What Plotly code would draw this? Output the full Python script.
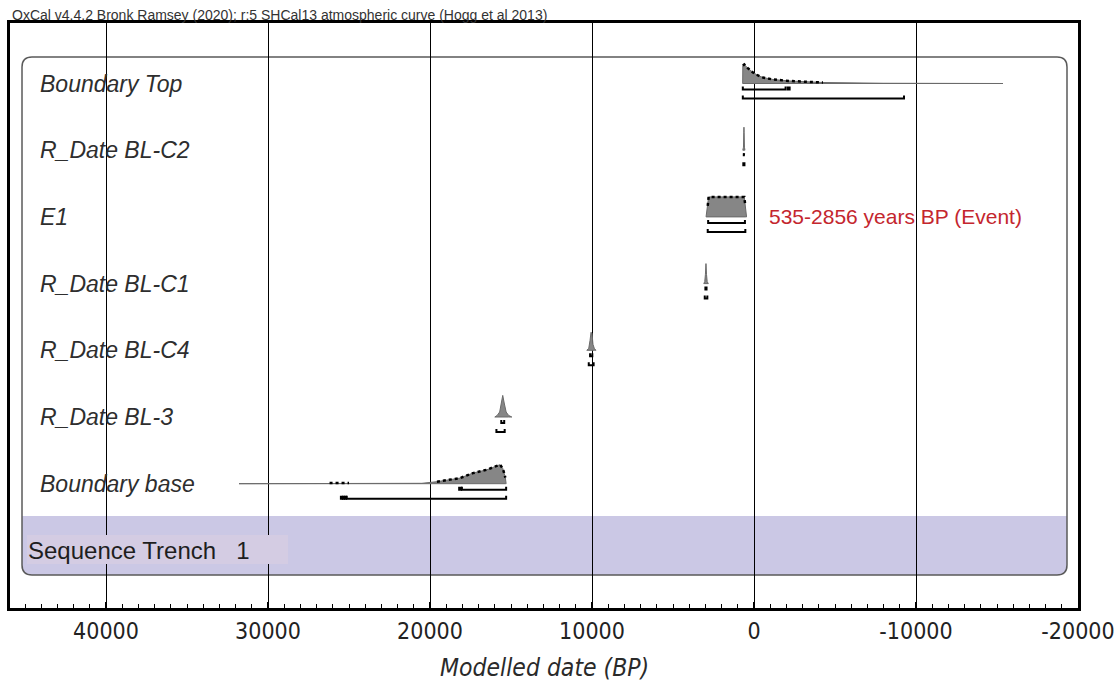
import plotly.graph_objects as go

# ---------------- data ----------------
rows = ["Boundary Top", "R_Date BL-C2", "E1", "R_Date BL-C1",
        "R_Date BL-C4", "R_Date BL-3", "Boundary base"]

# modelled probability distributions: date (BP) and relative probability
top_bp = [700, 690, 600, 400, 62, -250, -556, -1173, -2222, -4259, -8000, -15370]
top_p = [0, 0.90, 0.95, 0.78, 0.55, 0.40, 0.30, 0.20, 0.125, 0.05, 0.012, 0]

c2_bp = [690, 650, 630, 620, 610, 590, 560]
c2_p = [0, 0.15, 0.9, 1.15, 0.9, 0.15, 0]

e1_bp = [2960, 2856, 2800, 600, 535, 460]
e1_p = [0, 0.55, 1.0, 1.0, 0.55, 0]

c1_bp = [3100, 3040, 3000, 2965, 2930, 2890, 2820]
c1_p = [0, 0.1, 0.45, 1.0, 0.45, 0.1, 0]

c4_bp = [10320, 10200, 10120, 10060, 10000, 9940, 9860, 9760]
c4_p = [0, 0.1, 0.5, 0.9, 0.85, 0.3, 0.1, 0]

bl3_bp = [16000, 15850, 15700, 15600, 15510, 15420, 15300, 15150, 14950]
bl3_p = [0, 0.08, 0.25, 0.7, 1.08, 0.7, 0.25, 0.08, 0]

base_bp = [31790, 28000, 26200, 25000, 23100, 20500, 19570, 18150, 17350,
           16480, 15680, 15500, 15350, 15300]
base_p = [0, 0.008, 0.03, 0.03, 0.012, 0.02, 0.10, 0.28, 0.53,
          0.70, 0.95, 0.75, 0.3, 0]

# highest posterior density ranges (from, to) in BP
top_r68 = [(690, -1950), (-2080, -2200)]
top_r95 = [(690, -9260)]
c2_r68 = [(630, 610)]
c2_r95 = [(660, 590)]
e1_r68 = [(2830, 560)]
e1_r95 = [(2856, 535)]
c1_r68 = [(3000, 2930)]
c1_r95 = [(3040, 2880)]
c4_r68 = [(10120, 9980)]
c4_r95 = [(10200, 9900)]
bl3_r68 = [(15600, 15420)]
bl3_r95 = [(15900, 15390)]
base_r68 = [(18200, 18080), (18030, 15300)]
base_r95 = [(25500, 25420), (25380, 25300), (25260, 25180), (25140, 15300)]

event_label = "535-2856 years BP (Event)"
tick_vals = [40000, 30000, 20000, 10000, 0, -10000, -20000]
tick_text = ["40000", "30000", "20000", "10000", "0", "-10000", "-20000"]

series = [
    (top_bp, top_p, top_r68, top_r95, True),
    (c2_bp, c2_p, c2_r68, c2_r95, False),
    (e1_bp, e1_p, e1_r68, e1_r95, True),
    (c1_bp, c1_p, c1_r68, c1_r95, False),
    (c4_bp, c4_p, c4_r68, c4_r95, False),
    (bl3_bp, bl3_p, bl3_r68, bl3_r95, False),
    (base_bp, base_p, base_r68, base_r95, True),
]

# ---------------- geometry ----------------
W, H = 1116, 684
L, R, T, B = 10, 38, 23, 76
PLOT_TOP, PLOT_BOT = T, H - B
ROW_PX = 66.7            # vertical distance between rows
ROW0_PX = 83.5           # baseline of the first row
PEAK = 20 / ROW_PX       # height of unit probability, in row units
OFF68, OFF95, TICK = 6 / ROW_PX, 15 / ROW_PX, 3 / ROW_PX
DOT_MIN = 0.025          # outline drawn dotted where probability exceeds this


def px_x(p):
    return (p - L) / (W - L - R)


def px_y(p):
    return (PLOT_BOT - p) / (PLOT_BOT - PLOT_TOP)


def pt(x, y):
    return f"{px_x(x):.5f},{px_y(y):.5f}"


fig = go.Figure()

for i, (bp, p, r68, r95, dotted) in enumerate(series):
    top = [i - v * PEAK for v in p]
    fig.add_trace(go.Scatter(
        x=bp + bp[::-1], y=top + [i] * len(bp), fill="toself",
        fillcolor="#868686", line=dict(color="#6a6a6a", width=1),
        mode="lines", hoverinfo="skip", showlegend=False))
    if dotted:
        xs = [x if v >= DOT_MIN else None for x, v in zip(bp, p)]
        ys = [i - v * PEAK if v >= DOT_MIN else None for v in p]
        fig.add_trace(go.Scatter(
            x=xs, y=ys, mode="lines", connectgaps=False,
            line=dict(color="black", width=2.5, dash="dot"),
            hoverinfo="skip", showlegend=False))
    bx, by = [], []
    for off, ranges in ((OFF68, r68), (OFF95, r95)):
        for a, b in ranges:
            yb = i + off
            bx += [a, a, b, b, None]
            by += [yb - TICK, yb, yb, yb - TICK, None]
    fig.add_trace(go.Scatter(
        x=bx, y=by, mode="lines", line=dict(color="black", width=2),
        hoverinfo="skip", showlegend=False))

# ---------------- frame decorations ----------------
x0, x1, y0, y1, rad = 22, 1067, 57, 575, 10
band_top = 516
box_path = (f"M {pt(x0 + rad, y0)} L {pt(x1 - rad, y0)} Q {pt(x1, y0)} {pt(x1, y0 + rad)} "
            f"L {pt(x1, y1 - rad)} Q {pt(x1, y1)} {pt(x1 - rad, y1)} "
            f"L {pt(x0 + rad, y1)} Q {pt(x0, y1)} {pt(x0, y1 - rad)} "
            f"L {pt(x0, y0 + rad)} Q {pt(x0, y0)} {pt(x0 + rad, y0)} Z")
band_path = (f"M {pt(x0, band_top)} L {pt(x1, band_top)} L {pt(x1, y1 - rad)} "
             f"Q {pt(x1, y1)} {pt(x1 - rad, y1)} L {pt(x0 + rad, y1)} "
             f"Q {pt(x0, y1)} {pt(x0, y1 - rad)} Z")

shapes = [
    dict(type="path", xref="paper", yref="paper", path=band_path,
         fillcolor="#cbc8e5", line=dict(width=0), layer="below"),
    dict(type="path", xref="paper", yref="paper", path=box_path,
         fillcolor="rgba(0,0,0,0)", line=dict(color="#5a5a5a", width=1.5), layer="below"),
    dict(type="rect", xref="paper", yref="paper",
         x0=px_x(27), x1=px_x(288), y0=px_y(564), y1=px_y(535),
         fillcolor="#d4cce3", line=dict(width=0), layer="above"),
]

label_font = dict(family="Liberation Sans, Arial, sans-serif", size=23,
                  color="#2e2e2e", style="italic")
annotations = [
    dict(text=name, xref="paper", yref="y", x=px_x(38), y=i,
         xanchor="left", yanchor="middle", showarrow=False, font=label_font)
    for i, name in enumerate(rows)
]
annotations += [
    dict(text=event_label, xref="paper", yref="y", x=px_x(767), y=2,
         xanchor="left", yanchor="middle", showarrow=False,
         font=dict(family="Liberation Sans, Arial, sans-serif", size=21, color="#c4262e")),
    dict(text="Sequence Trench\u00a0\u00a0\u00a01", xref="paper", yref="paper",
         x=px_x(26), y=px_y(550), xanchor="left", yanchor="middle", showarrow=False,
         font=dict(family="Liberation Sans, Arial, sans-serif", size=24, color="#1e1e1e")),
    dict(text="OxCal v4.4.2 Bronk Ramsey (2020); r:5 SHCal13 atmospheric curve (Hogg et al 2013)",
         xref="paper", yref="paper", x=0, y=1, xanchor="left", yanchor="bottom",
         yshift=-2, showarrow=False,
         font=dict(family="Liberation Sans, Arial, sans-serif", size=14, color="#333333")),
    dict(text="Modelled date (BP)", xref="paper", yref="paper", x=0.5, y=px_y(667),
         xanchor="center", yanchor="middle", showarrow=False,
         font=dict(family="DejaVu Sans Condensed, Liberation Sans, sans-serif",
                   size=24.5, color="#2a2a2a", style="italic")),
]

fig.update_layout(
    width=W, height=H,
    margin=dict(l=L, r=R, t=T, b=B, pad=0, autoexpand=False),
    paper_bgcolor="white", plot_bgcolor="white",
    shapes=shapes, annotations=annotations,
    xaxis=dict(
        range=[45926, -20000], tickvals=tick_vals, ticktext=tick_text,
        ticklabeloverflow="allow", automargin=False,
        showgrid=True, gridcolor="black", gridwidth=1, zeroline=False,
        showline=True, linecolor="black", linewidth=3, mirror=True,
        ticks="inside", ticklen=6, tickwidth=1.5, tickcolor="black",
        minor=dict(dtick=1000, ticks="inside", ticklen=4, tickwidth=1,
                   tickcolor="black", showgrid=False),
        tickfont=dict(family="DejaVu Sans Condensed, Liberation Sans, sans-serif",
                      size=23, color="#222222"),
    ),
    yaxis=dict(
        range=[(PLOT_BOT - ROW0_PX) / ROW_PX, (PLOT_TOP - ROW0_PX) / ROW_PX],
        showgrid=False, zeroline=False, showticklabels=False, ticks="",
        showline=True, linecolor="black", linewidth=3, mirror=True,
        automargin=False,
    ),
)

fig.write_html("out.html")
